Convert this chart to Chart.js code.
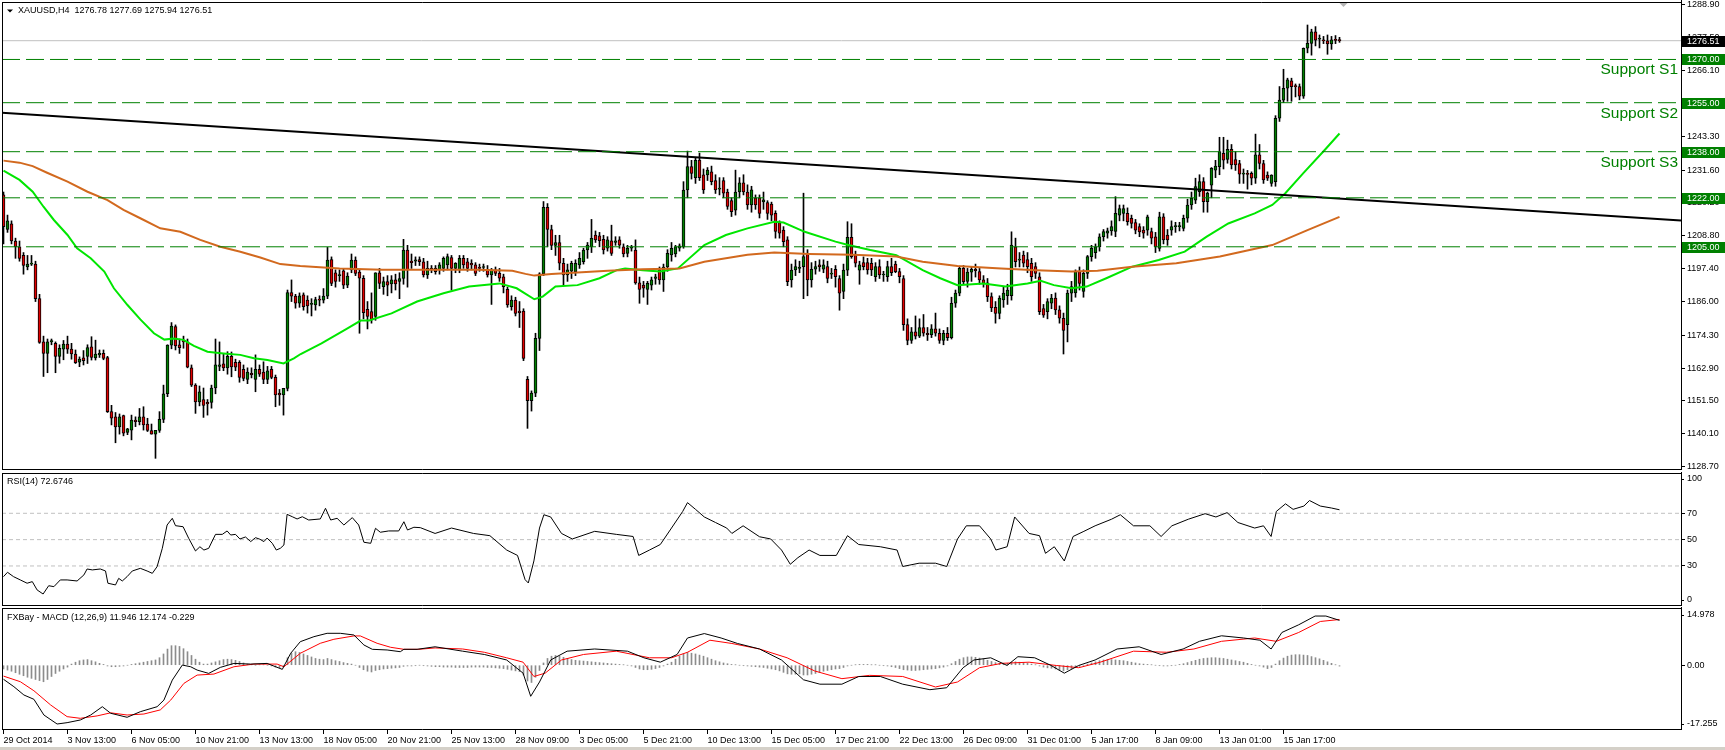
<!DOCTYPE html>
<html>
<head>
<meta charset="utf-8">
<title>XAUUSD H4</title>
<script src="https://cdn.jsdelivr.net/npm/chart.js@4.4.1/dist/chart.umd.min.js"></script>
<style>
  html, body { margin: 0; padding: 0; background: #fff; }
  #wrap { position: relative; width: 1725px; height: 750px; overflow: hidden; background: #fff; }
  #wrap canvas { position: absolute; left: 0; }
  #price { top: 0; }
  #rsi { top: 472px; }
  #macd { top: 607px; }
  #strip { position: absolute; left: 0; top: 747px; width: 1725px; height: 3px; background: #d4d0c8; }
</style>
</head>
<body>
<div id="wrap">
  <canvas id="price" width="1725" height="472"></canvas>
  <canvas id="rsi" width="1725" height="135"></canvas>
  <canvas id="macd" width="1725" height="143"></canvas>
  <div id="strip"></div>
</div>
<script>
// ---- data ----
const symbol = 'XAUUSD,H4';
const timeLabels = ['29 Oct 2014', '3 Nov 13:00', '6 Nov 05:00', '10 Nov 21:00', '13 Nov 13:00', '18 Nov 05:00',
  '20 Nov 21:00', '25 Nov 13:00', '28 Nov 09:00', '3 Dec 05:00', '5 Dec 21:00', '10 Dec 13:00', '15 Dec 05:00',
  '17 Dec 21:00', '22 Dec 13:00', '26 Dec 09:00', '31 Dec 01:00', '5 Jan 17:00', '8 Jan 09:00', '13 Jan 01:00',
  '15 Jan 17:00'];
const labelStep = 16; // bars between two time labels
const priceTicks = [1288.9, 1277.5, 1266.1, 1254.7, 1243.3, 1231.6, 1220.2, 1208.8, 1197.4, 1186.0, 1174.3,
  1162.9, 1151.5, 1140.1, 1128.7];
const supportLevels = [1270, 1255, 1238, 1222, 1205];
const supportNames = ['Support S1', 'Support S2', 'Support S3'];
const lastPrice = 1276.51;
const trendLine = [[-0.375, 1251.5], [419.375, 1214.1]];
const rsiLevels = [70, 50, 30];
const rsiLast = 72.6746;
const macdLast = [11.946, 12.174, -0.229];

// open, high, low, close per H4 bar
const ohlc = [
  [1223,1224,1206,1212],[1211,1216,1210,1214],[1213,1214,1206,1207],[1207,1208,1201,1205],[1205,1207,1200,1201],
  [1202,1203,1195.5,1198.5],[1198,1202,1197,1199],[1199,1202,1198.5,1199],[1199,1200,1186,1187],[1187,1188.5,1171.5,1171.8],
  [1172,1174,1160,1168],[1168,1173,1161.3,1172],[1172,1173,1171,1172.5],[1171.5,1172,1161.3,1167],[1167,1171,1164.6,1169.8],
  [1169.5,1172.5,1165.8,1171.2],[1171.2,1174,1168,1169.5],[1169.5,1171.5,1166,1167.8],[1167.8,1169.2,1164.5,1164.8],[1165,1166.8,1163.4,1166],
  [1166.5,1169,1164,1165.5],[1167,1171,1164.5,1170],[1170.3,1173.8,1165.7,1166.6],[1166.4,1172.6,1165.7,1167.8],[1167.5,1169.2,1166.6,1168],
  [1168,1169.2,1165.8,1166.3],[1166.6,1167,1147.5,1147.8],[1147.8,1150,1143.2,1145.5],[1146,1147.5,1137,1142.5],[1142.5,1147,1140,1146],
  [1146.4,1146.6,1139.4,1140.3],[1140.6,1142,1139.8,1141.8],[1141.4,1146.6,1138,1144.9],[1144.9,1146,1142.6,1144.3],[1144.3,1148.9,1143.2,1146],
  [1146,1149.5,1141.4,1143.2],[1143.5,1145.5,1140.9,1141.3],[1141.2,1143.5,1140,1140],[1140,1141.2,1131.6,1141.3],[1141.3,1147.8,1140.6,1145.1],
  [1145.1,1157,1144,1154],[1154,1171,1153,1170.9],[1170.9,1178.7,1169.6,1177.5],[1177.3,1177.9,1169.2,1170.6],[1171,1173,1168,1170],
  [1172.5,1174,1169.8,1172],[1172,1173,1163,1163.2],[1163,1164,1156.5,1157],[1157,1157.5,1147.2,1151.2],[1151.2,1156.7,1149.8,1154.7],
  [1152,1156,1145.8,1150],[1151,1152,1146.6,1150.5],[1151,1157,1149,1156],[1156,1173,1154,1164],[1163.5,1172,1162,1164],
  [1164.4,1168,1162,1163],[1163,1168.6,1160.8,1167],[1167,1168.5,1159.9,1163.3],[1164.9,1166,1162,1163.2],[1164.9,1165.5,1158,1159.7],
  [1162.5,1164,1158.5,1159.3],[1159,1163,1157.5,1161.5],[1161.1,1163,1159.5,1160.6],[1159,1167.5,1154.7,1162.5],[1162.5,1164,1160,1160.8],
  [1161.5,1165.1,1157.5,1159],[1159,1163.5,1157.5,1162],[1162.5,1163.5,1159.2,1159.7],[1159.7,1160.5,1149.5,1153.6],[1154.2,1155.5,1150,1153.6],
  [1153.6,1155.9,1146.6,1155.9],[1155.9,1190,1155,1189.1],[1189.1,1193.5,1186,1187.9],[1187.9,1188.5,1183.7,1185.4],[1185.4,1189,1184,1188],
  [1188.3,1189,1183,1184.2],[1186.5,1188,1182,1184.5],[1185,1187,1181,1185.4],[1184.8,1187.5,1183,1186.7],[1186.7,1188,1184.5,1186.5],
  [1186.5,1190.5,1185.5,1187.9],[1187.9,1204.8,1187,1200.4],[1200.6,1201.5,1191.5,1192.3],[1196,1197,1191,1193],[1195,1197,1193,1195.2],
  [1196.7,1197.5,1190.5,1191.7],[1191.7,1196,1190.8,1194.8],[1197,1202.5,1196,1200.4],[1200.4,1201.5,1195,1195.8],[1196.2,1197,1175,1194.1],
  [1194.1,1195,1180,1182.1],[1183.3,1186,1176.5,1180.8],[1182.5,1189,1178.5,1179.6],[1180.8,1196,1179.5,1196],[1196,1197.5,1190.5,1192.3],
  [1191.2,1194.5,1188.5,1192.9],[1192.9,1195,1188,1191.7],[1192.1,1195,1189,1193.5],[1193.5,1195.5,1190,1192.1],[1193,1196,1187,1194],
  [1194,1207.6,1192,1203.9],[1203.9,1205.5,1191,1197],[1200,1202.5,1197.5,1199.5],[1200,1201.5,1198.5,1200.5],[1200.6,1201.5,1198.5,1199.8],
  [1199.8,1201,1194.5,1195.2],[1195.2,1200,1194,1197.5],[1197.5,1198.5,1196,1197],[1197.5,1198.5,1195.5,1196.4],[1197,1199.5,1195.5,1198.7],
  [1197.5,1201.5,1196.5,1201],[1198.7,1202.5,1197,1201.6],[1201.3,1202,1190,1197.5],[1197.5,1199.5,1196,1199.3],[1197,1202,1196,1201],
  [1201,1202,1197.5,1198.7],[1199.8,1201,1196.5,1197.5],[1199.3,1200.5,1197,1198.7],[1198.7,1199.5,1195,1195.8],[1197.8,1199,1196.5,1197.5],
  [1197.8,1199,1196.5,1197.9],[1197.2,1198.5,1194.5,1195.2],[1195.2,1197.5,1185,1197],[1197,1198,1195,1195.8],[1195.8,1197.5,1193,1194.1],
  [1194.6,1195.5,1189,1191.2],[1190.2,1191,1184,1184.8],[1184.2,1188,1183,1186.5],[1186.5,1187.5,1181,1181.9],[1182.7,1186,1177,1182.1],
  [1182.7,1183.5,1165.5,1166.3],[1159,1160,1142,1151.6],[1151.6,1155,1148,1154.2],[1154.2,1175,1153,1173.2],[1173.2,1196,1169,1195.6],
  [1195.6,1220.7,1195,1218.7],[1218.7,1220,1205,1211],[1211,1212.5,1204,1205.5],[1205.5,1209,1202,1206.5],[1206.5,1209,1197,1199.3],
  [1199.3,1201,1191.5,1195.2],[1195.2,1199,1193,1197],[1196.5,1200,1194,1199.3],[1196.4,1200.5,1195,1199.3],[1198.7,1203,1197.5,1201],
  [1199.8,1204.5,1199,1203.9],[1203.9,1206.5,1201,1205.6],[1205,1214.5,1203,1207.9],[1209.1,1210.5,1206.5,1207.4],[1208.8,1210,1205,1207.1],
  [1207.6,1209,1202.5,1203.9],[1204.5,1208.5,1203.5,1207.4],[1207.1,1212.5,1202,1202.7],[1206.5,1208.5,1205.5,1207.1],[1207.4,1208.5,1204.5,1205.6],
  [1205,1206,1201.5,1202.5],[1202.7,1205.5,1201.5,1204.5],[1204.5,1205.5,1203.5,1204.5],[1203.9,1207.4,1192,1192.5],[1192.5,1194.5,1185.4,1190.2],
  [1191.7,1193,1187.5,1190.6],[1190.2,1193,1185,1192.3],[1191.7,1194.5,1190,1193.5],[1194,1195.5,1192,1194.6],[1197,1198,1192,1193.5],
  [1193.5,1199,1189.5,1198],[1198,1204,1196.5,1202.7],[1202.2,1206.5,1200,1204.5],[1202.5,1205.5,1201.5,1205],[1204.5,1206,1203.5,1205.3],
  [1205,1227.6,1204.5,1224.7],[1224.7,1238.2,1222,1232.8],[1232.8,1235,1228.5,1230.5],[1229,1236,1227,1235],[1235.1,1237.5,1228,1229],
  [1230,1232,1223.5,1224.7],[1229.9,1232.5,1228,1231.6],[1231,1233,1226.5,1227.6],[1228,1230,1223.5,1224.7],[1225,1229,1223,1225.3],
  [1228,1229,1222,1223.6],[1224,1225,1218,1219],[1221,1222,1215.5,1217.2],[1217.7,1231.6,1216,1224],[1224,1229,1222,1227.2],
  [1227.2,1230,1223,1224],[1224,1226.5,1218,1219.5],[1219.5,1226,1217,1224.8],[1222,1223,1218,1219.5],[1222,1223,1215,1216.6],
  [1220.6,1224,1218,1221.3],[1220.3,1221,1214.5,1216.6],[1219.8,1220.5,1214,1216],[1216.6,1217.5,1208,1210.3],[1213.4,1214,1208,1209.7],
  [1210.8,1212,1205,1206.8],[1207.4,1208.5,1191.5,1192.9],[1193.5,1199,1191,1196.9],[1197,1200.5,1195,1198.1],[1197.5,1200,1196,1197.6],
  [1198.1,1223.6,1187,1201.6],[1202.7,1204,1188,1193.5],[1193.5,1199.5,1191,1197.2],[1197.2,1200,1195.5,1198.1],[1198.7,1200.5,1196.5,1198.1],
  [1197.2,1200.5,1196,1198.7],[1198.1,1200,1192.5,1194],[1195.5,1197.5,1194,1195.8],[1197.2,1198.5,1191,1194.6],[1194,1195,1183,1188.9],
  [1189.5,1199,1187,1196.9],[1196.9,1213.7,1195,1208.3],[1208.3,1213,1201,1201.6],[1202.2,1203.5,1198,1199.3],[1196.9,1200,1192,1198.7],
  [1199.5,1201.5,1197,1198.1],[1199.5,1201,1195.5,1197],[1199.3,1201,1195,1197],[1194.6,1199.5,1193,1198.1],[1198.1,1200.5,1194,1195.2],
  [1195.2,1196.5,1193,1195.5],[1194.6,1200,1193,1198.1],[1198.1,1201,1195,1196],[1199,1200,1196,1196.4],[1196.4,1197.5,1192.5,1194.6],
  [1194,1195,1176,1178],[1178,1180,1171,1172.5],[1172.5,1177,1171.5,1175.5],[1175.5,1181,1173,1174],[1174,1180,1173.5,1177],
  [1177,1181.5,1174,1175],[1175,1177,1172.5,1174.5],[1174.5,1178,1173.5,1176.5],[1176.5,1182,1174,1175],[1175,1176.5,1171.5,1172.5],
  [1172.5,1176,1171,1175],[1175,1177,1172.5,1173.5],[1173.5,1187.5,1173,1185.4],[1185.4,1190,1184,1188.9],[1188.9,1198.3,1188,1197.5],
  [1197.5,1198.5,1192,1192.9],[1193,1197.5,1191,1196.2],[1196.2,1198,1193,1197.2],[1197.2,1199,1194.5,1196.7],[1196.4,1197.5,1192,1193.5],
  [1193.5,1195,1191,1192.3],[1192.5,1194,1186,1187.7],[1187.7,1189,1182.5,1183.8],[1184,1186,1178.5,1181.9],[1181.9,1188,1180,1187.2],
  [1186.6,1191,1184,1188.9],[1188,1192,1185,1190],[1188,1210.2,1186.5,1205.6],[1205,1208,1198,1199.8],[1200.4,1203,1198,1200.4],
  [1202.1,1203.5,1198,1199.3],[1200.6,1203,1196,1198.1],[1199.3,1201,1193,1194.6],[1198.1,1199.5,1194,1195.8],[1194.6,1196,1181.5,1182.5],
  [1183.6,1185,1180.5,1181.3],[1182.5,1187,1180,1186],[1185.4,1188.5,1183.5,1187.2],[1187.2,1189,1181.5,1183.1],[1183.1,1184.5,1178.5,1180.2],
  [1180.2,1182,1167.8,1176],[1178,1190,1172,1188.9],[1188.9,1193,1186,1191.2],[1189,1197,1187.5,1196.4],[1196.4,1198,1190,1192.3],
  [1189.5,1197,1187.5,1195.8],[1195.8,1202,1194,1201.6],[1201.6,1205.5,1200,1204.5],[1203,1206,1201,1205],[1205,1209.5,1203.5,1208.5],
  [1208.5,1211,1207,1210.3],[1209.7,1211.5,1208,1210.5],[1210.5,1214,1209,1212],[1210.3,1222.4,1208.5,1216.6],[1216,1219.5,1214,1218.3],
  [1216.6,1219.5,1214,1218.3],[1216.6,1218.5,1212.5,1213.7],[1214.9,1216,1211.5,1213.1],[1213.4,1214.5,1209.5,1210.8],[1212,1213,1208.5,1210.2],
  [1210.8,1212,1208,1209.7],[1210.8,1216,1209,1215.4],[1210.3,1211.5,1206,1208],[1208.5,1210,1203,1205],[1204.4,1217,1203.5,1215.4],
  [1215.4,1216.5,1206,1207.4],[1209.1,1211,1205.5,1207.4],[1210.8,1214,1209,1212],[1212,1213.5,1210,1212.2],[1212,1213.5,1210.5,1212.3],
  [1211.4,1216,1210.5,1214.9],[1214.9,1221.5,1213.5,1219.5],[1219.5,1224,1218,1221.8],[1221.2,1228.8,1220,1225.9],[1224.1,1230,1222.5,1227.6],
  [1227.6,1229,1217,1220.7],[1220.7,1224,1217,1223.6],[1226.4,1232.5,1222,1232.2],[1231.6,1235,1229,1233],[1232.8,1243,1230,1238],
  [1237.4,1243,1232,1235.1],[1235.3,1242,1234,1238.8],[1238.8,1240.5,1232,1233.4],[1235.3,1238,1231.5,1233.4],[1233.9,1235,1227,1230.2],
  [1230.2,1232,1227,1230.5],[1230.5,1231.5,1225,1230.1],[1230.5,1231,1226.5,1228.8],[1228.8,1244.1,1227,1236.9],[1236.9,1240.5,1232,1233.9],
  [1233.9,1235,1227,1228.2],[1229.9,1231,1228,1228.8],[1227,1230,1226,1229.9],[1227.6,1250.5,1226,1249.6],[1249.6,1260.6,1248.5,1255.9],
  [1255.9,1266.6,1255,1260],[1260,1263.5,1255.5,1262.9],[1262.6,1263.5,1255.5,1260.6],[1260.8,1261.5,1257,1260.6],[1260.6,1261.5,1256,1257.3],
  [1257.3,1274,1256.5,1273.9],[1273.9,1281.96,1272.3,1275.6],[1275.6,1280.5,1271.5,1279.6],[1279.6,1281.4,1274.7,1276.7],[1277,1278.5,1274,1277],
  [1276.8,1278,1275.5,1276.5],[1276.5,1278.5,1271.8,1275.4],[1275.4,1278,1273.5,1276.8],[1276.7,1278.3,1275.5,1276.6],[1276.78,1277.69,1275.94,1276.51]
];

// moving averages, [bar, price]
const maFast = [[0,1231.4],[4,1228.2],[7.3,1224.1],[10,1218.9],[12.6,1214.3],[16,1209.1],[18.4,1204.5],[21.8,1201.0],
  [25.2,1196.4],[27.6,1190.6],[31,1184.8],[34.2,1179.8],[37.6,1175.0],[40.2,1172.8],[42.6,1173.2],[45,1172.7],[47.6,1170.6],
  [51,1168.6],[55,1168.0],[59.2,1167.5],[62.6,1166.3],[66,1165.7],[70,1164.5],[72.6,1166.3],[74.3,1167.8],[79.5,1171.5],
  [86,1176.7],[89.3,1179.4],[91.4,1179.4],[97,1181.9],[103.4,1186.0],[110,1188.9],[116.4,1191.2],[124,1192.3],[128.3,1190.6],
  [132.7,1186.8],[134.8,1187.7],[138,1191.2],[143.5,1191.7],[149,1194.1],[153.3,1196.9],[155.4,1197.5],[159.8,1196.9],
  [164.2,1196.4],[168.6,1197.5],[175.2,1205.6],[180.6,1209.1],[186,1211.4],[192.7,1213.7],[195,1213.4],[200.3,1210.2],
  [208,1206.8],[211.2,1205.6],[216.7,1203.9],[223.2,1202.1],[229.8,1196.9],[234.2,1194.1],[238.5,1191.7],[245,1192.3],
  [250.5,1191.2],[256,1192.3],[259.3,1193.2],[262.6,1191.7],[267,1190.6],[270.8,1191.2],[275.7,1194.1],[282.2,1198.1],
  [288.8,1200.4],[295.3,1203.3],[300.8,1208.5],[306.2,1213.1],[312.8,1216.6],[317.2,1219.5],[320.4,1223.5],[324.9,1230.5],
  [330.3,1238.6],[334,1244.3]];
const maSlow = [[0,1234.9],[4,1234.2],[7.3,1233.0],[10.9,1230.7],[16,1227.6],[21,1224.1],[26,1221.2],[30,1217.8],
  [34.2,1214.9],[39.2,1211.4],[44.2,1210.2],[49.2,1207.4],[54.2,1205.0],[59.2,1203.3],[64.2,1201.3],[69.2,1199.0],
  [74.2,1198.3],[84,1197.5],[94.7,1197.0],[107.7,1197.0],[118.6,1197.0],[127.2,1196.7],[130.5,1195.6],[132.7,1195.0],
  [137,1195.6],[142.4,1196.0],[151.1,1196.7],[159.8,1197.2],[169,1197.5],[175.2,1199.8],[186,1202.2],[192.7,1203.0],
  [201.4,1202.5],[212.3,1202.2],[223.2,1201.6],[229.8,1199.8],[238.5,1198.3],[249.4,1197.5],[258.2,1196.9],[267,1196.4],
  [273.5,1196.7],[282.2,1198.1],[293.2,1199.3],[304.1,1201.6],[317.2,1205.6],[326,1210.8],[334,1215.4]];

// RSI(14), [bar, value]
const rsi = [[0,21.9],[1,25.2],[2.5,21.9],[4.2,19.4],[5.9,16.9],[7.2,18.1],[8.4,11.8],[9.9,8.7],[11.3,15.0],[12.6,14.3],
  [14.2,19.4],[15.9,19.4],[18.4,18.6],[20.1,23.2],[20.9,27.7],[22.2,27.0],[24.2,27.7],[25.5,26.2],[26.1,16.9],[28,15.6],
  [28.8,20.6],[29.7,18.6],[30.9,21.9],[32.2,26.2],[34.2,28.2],[35.9,26.2],[37.2,24.4],[38.4,29.5],[39.7,43.4],[40.9,61.1],
  [42.2,66.2],[43,60.6],[44.9,59.8],[46.3,51.0],[48,41.4],[49.1,44.6],[50.1,42.1],[51.3,43.4],[53,54.0],[54.7,54.0],
  [55.9,56.6],[56.8,53.5],[58,54.0],[59.1,50.5],[60.5,52.0],[61.8,48.5],[63,51.5],[64.1,50.3],[65.1,48.5],[65.9,51.2],
  [67.2,47.2],[68.2,42.1],[69.2,43.4],[70.1,45.9],[70.9,69.2],[72.2,67.4],[73.4,65.7],[74.7,67.4],[76.3,64.9],[79.2,65.7],
  [80.5,73.8],[81.8,64.9],[83.4,66.2],[85.1,61.1],[87.2,66.7],[88.8,61.1],[90.1,48.0],[91.8,47.2],[93,58.6],[94.2,55.6],
  [96.3,56.6],[98.8,56.6],[100.1,63.6],[101,57.3],[102.6,59.4],[104.2,59.1],[107.9,54.7],[112,58.8],[117.5,54.7],[121.6,53.0],
  [125.8,42.1],[128.5,38.0],[130.4,19.6],[131.2,17.1],[132.6,33.8],[134,58.8],[135.1,68.9],[136.8,67.2],[139.5,54.7],
  [142.2,50.5],[147.8,56.3],[153.2,54.0],[157.4,52.4],[158.8,38.0],[161.5,42.1],[164.2,46.3],[167,58.8],[169.8,71.4],
  [171,78.1],[173,73.0],[175.2,67.2],[178,63.0],[180.8,58.8],[182.1,54.7],[184.9,60.5],[189,52.2],[191.8,50.5],[194.5,42.1],
  [196.7,31.3],[198.6,36.3],[201.4,42.1],[204.1,38.0],[208.2,38.0],[211,53.0],[213.8,46.3],[219.2,44.6],[223.4,42.1],
  [224.8,29.6],[228.9,32.1],[233,32.1],[235.8,29.6],[238.5,50.5],[240.7,60.5],[244,60.5],[246.8,50.5],[248.1,42.1],
  [250.9,44.6],[252.8,67.2],[256.4,54.7],[259,53.0],[260.5,39.6],[262.7,44.6],[265.2,33.8],[267.4,52.4],[270.1,56.3],
  [272.9,60.5],[277,65.5],[279.2,68.9],[282.5,60.5],[286.6,60.5],[289.4,52.4],[292.1,60.5],[296.2,65.5],[300.4,69.7],
  [303.1,67.2],[305.9,70.5],[308.6,63.0],[312.8,58.8],[315,60.5],[316.9,52.4],[318.2,71.4],[320.5,77.2],[322.4,73.0],
  [325.1,75.5],[326.5,79.7],[329.2,75.5],[332,74.0],[334,72.67]];

// MACD(12,26,9): main and signal as [bar, value], histogram one value per bar
const macdMain = [[0,-3.75],[2.6,-5.72],[5.1,-7.93],[7.6,-9.08],[10.1,-13.26],[13.4,-15.66],[15.9,-15.3],[19.2,-14.59],
  [21.8,-13.26],[24.7,-11.05],[26.8,-12.8],[30.9,-13.87],[34.2,-12.38],[38.4,-11.05],[40.1,-9.29],[42.2,-3.96],[44.7,0.04],
  [46.8,-0.41],[48.4,-1.29],[51.3,-2.18],[54.2,-0.58],[57.6,0.48],[61.8,0.3],[65.9,0.48],[69.7,-1.1],[71.8,3.18],[74.2,6.27],
  [77.6,7.6],[80.9,8.5],[84.2,8.5],[87.6,8.05],[90.1,5.39],[92.2,4.24],[95.9,4.06],[99.2,3.6],[100.1,4.24],[103.4,4.24],
  [107.9,4.91],[114.8,3.74],[120.2,2.86],[125.8,1.39],[129.9,-2.12],[131.8,-8.28],[134,-4.47],[136.8,1.39],[140.9,3.74],
  [147.8,4.32],[156,3.74],[160.1,1.98],[164.2,0.81],[168.4,2.86],[171,7.25],[175.2,8.43],[179.4,7.25],[183.5,5.79],
  [189,4.32],[194.5,1.39],[200,-3.88],[204.1,-5.05],[209.6,-5.05],[213.8,-3.0],[219.2,-3.0],[224.8,-5.05],[231.6,-6.52],
  [235.8,-6.0],[239.9,-0.67],[242.6,1.39],[246.8,1.98],[250.9,-0.07],[253.6,2.27],[257.8,1.98],[261.9,-0.07],[265.2,-2.12],
  [268.8,-0.07],[272.9,1.39],[278.4,4.32],[283.9,4.91],[289.4,2.86],[294.9,4.32],[299,6.37],[304.5,7.84],[310,7.25],
  [314.1,6.66],[316.9,4.32],[319.6,8.72],[323.8,10.77],[327.9,13.1],[330.6,13.1],[334,11.946]];
const macdSignal = [[0,-2.9],[4.2,-4.39],[7.6,-6.8],[11.8,-10.6],[15.9,-13.7],[19.2,-14.14],[23.4,-13.5],[26.8,-12.68],
  [30.9,-13.26],[35.1,-13.0],[39.2,-11.9],[41.8,-9.29],[45.1,-4.84],[48.4,-2.63],[52.6,-2.36],[57.6,-0.41],[62.6,0.3],
  [68.4,0.3],[70.1,-0.41],[74.2,3.18],[79.2,5.84],[82.6,6.91],[87.6,7.8],[89.2,7.8],[93.4,5.84],[96.8,4.77],[100.1,4.24],
  [103.8,4.24],[107.9,4.6],[114.8,4.32],[120.2,3.45],[125.8,1.98],[129.9,0.81],[132.6,-3.0],[135.4,-2.12],[139.5,1.39],
  [145,2.86],[153.2,3.74],[161.5,1.98],[167,1.98],[171,3.45],[176.6,6.66],[182.1,5.79],[189,4.32],[195.9,1.98],
  [202.8,-1.53],[209.6,-3.58],[216.5,-2.7],[224.8,-3.0],[233,-5.8],[238.5,-4.47],[244,-0.67],[249.5,0.5],[256.4,0.81],
  [263.2,-0.07],[268.8,-0.67],[274.2,0.81],[282.5,3.74],[290.8,3.45],[297.6,4.32],[304.5,6.37],[312.8,7.25],[318.2,6.37],
  [323.8,8.72],[329.2,11.65],[334,12.174]];
const macdHist = [
  -1.0,-1.3,-1.6,-2.0,-2.4,-2.8,-3.2,-3.5,-3.8,-4.1,-4.4,-3.8,-3.0,-2.2,-1.6,-1.0,-0.5,0.3,0.8,1.2,
  1.4,1.5,1.2,0.9,0.5,0.2,-0.2,-0.4,-0.4,-0.3,-0.2,0,0.2,0.4,0.6,0.8,1.0,1.2,1.4,2.0,
  3.0,4.3,5.2,5.2,5.0,4.4,3.6,2.6,1.6,0.8,0.3,0.3,0.6,0.9,1.2,1.5,1.6,1.5,1.3,1.0,
  0.6,0.3,0.1,0,0.1,0.1,0,-0.2,-0.5,-0.7,-0.4,2.0,3.2,3.6,3.4,3.0,2.6,2.2,1.8,1.6,
  1.5,1.8,1.5,1.2,1.0,0.7,0.5,0.3,0,-0.6,-1.2,-1.6,-1.8,-1.4,-1.2,-1.0,-0.9,-0.8,-0.7,-0.6,
  -0.3,-0.2,-0.2,-0.1,0,-0.1,-0.2,-0.3,-0.4,-0.4,-0.5,-0.5,-0.5,-0.6,-0.6,-0.6,-0.6,-0.5,-0.5,-0.5,
  -0.5,-0.6,-0.6,-0.7,-0.8,-0.9,-1.1,-1.3,-1.5,-1.7,-2.6,-4.2,-4.6,-3.2,-1.4,0.6,1.8,2.4,2.6,2.4,
  2.1,1.8,1.5,1.3,1.2,1.1,1.0,0.9,0.8,0.7,0.6,0.5,0.4,0.3,0.2,0.1,0,-0.2,-0.6,-1.0,
  -1.2,-1.2,-1.1,-0.9,-0.6,-0.2,0.3,0.8,1.6,2.4,3.0,3.4,3.2,3.0,2.7,2.4,2.0,1.6,1.2,0.9,
  0.6,0.4,0.2,0.1,0,-0.1,-0.2,-0.3,-0.4,-0.5,-0.6,-0.8,-1.0,-1.2,-1.5,-1.9,-2.3,-2.4,-2.4,-2.3,
  -2.6,-2.6,-2.4,-2.2,-1.9,-1.6,-1.4,-1.2,-1.0,-0.9,-0.6,-0.2,0,0.1,0.2,0.2,0.2,0.1,0.1,0,
  -0.1,-0.2,-0.4,-0.6,-0.9,-1.2,-1.3,-1.4,-1.4,-1.3,-1.2,-1.1,-1.0,-0.9,-0.7,-0.5,-0.2,0.4,1.0,1.6,
  2.0,2.2,2.2,2.1,1.9,1.6,1.3,1.0,0.7,0.5,0.4,0.5,0.8,0.9,0.8,0.7,0.5,0.3,0.1,-0.2,
  -0.5,-0.7,-0.8,-1.0,-1.3,-1.5,-1.2,-0.9,-0.6,-0.3,0,0.3,0.6,0.9,1.2,1.4,1.5,1.5,1.4,1.3,
  1.2,1.0,0.8,0.6,0.4,0.3,0.2,0.1,0,-0.1,-0.2,-0.2,-0.1,0,0.2,0.4,0.7,1.0,1.3,1.6,
  1.8,1.9,2.0,2.0,1.9,1.8,1.6,1.4,1.2,1.0,0.8,0.5,0.2,0,-0.2,-0.5,-0.9,-0.6,0.3,1.2,
  1.9,2.4,2.7,2.8,2.8,2.7,2.6,2.3,2.0,1.7,1.3,0.9,0.5,0.1,-0.229
];

// ---- drawing ----
const FONT = '"Liberation Sans", Arial, sans-serif';
const GREEN = '#008000';
const X_MIN = -0.375, X_MAX = 419.375;

Chart.defaults.font.family = FONT;
Chart.defaults.font.size = 9;
Chart.defaults.color = '#000';

const pts = arr => arr.map(p => ({x: p[0], y: p[1]}));
const hLine = (v, color, dash, width, order) => ({
  type: 'line', data: [{x: X_MIN, y: v}, {x: X_MAX, y: v}], borderColor: color, borderWidth: width,
  borderDash: dash, pointRadius: 0, order: order
});
const noPad = s => { s.paddingTop = 0; s.paddingBottom = 0; s.paddingLeft = 0; s.paddingRight = 0; };

const hiddenX = {type: 'linear', min: X_MIN, max: X_MAX, offset: false, display: false, grid: {offset: false}};

function rightAxis(min, max, ticks, fmt) {
  return {
    position: 'right', min: min, max: max,
    afterBuildTicks: s => { s.ticks = ticks.map(v => ({value: v})); },
    afterFit: s => { s.width = 44; noPad(s); },
    grid: {drawOnChartArea: false, drawTicks: true, tickLength: 4, color: '#000', tickColor: '#000'},
    border: {display: false},
    ticks: {autoSkip: false, padding: 2, color: '#000', font: {family: FONT, size: 9}, callback: fmt}
  };
}

function frame(chart) {
  const ctx = chart.ctx, a = chart.chartArea;
  ctx.save();
  ctx.strokeStyle = '#000';
  ctx.lineWidth = 1;
  ctx.beginPath();
  ctx.moveTo(a.left + 0.5, a.top + 0.5); ctx.lineTo(a.right + 0.5, a.top + 0.5);
  ctx.moveTo(a.left + 0.5, a.bottom - 0.5); ctx.lineTo(a.right + 0.5, a.bottom - 0.5);
  ctx.moveTo(a.left + 0.5, a.top); ctx.lineTo(a.left + 0.5, a.bottom);
  ctx.moveTo(a.right + 0.5, 0); ctx.lineTo(a.right + 0.5, a.bottom);
  ctx.stroke();
  ctx.restore();
}

function edgeLabel(chart, txt, y) {
  const ctx = chart.ctx, a = chart.chartArea;
  ctx.save();
  ctx.fillStyle = '#000';
  ctx.fillRect(a.right + 1, Math.round(y), 2, 1);
  ctx.font = '9px ' + FONT;
  ctx.textAlign = 'left';
  ctx.textBaseline = 'middle';
  ctx.fillText(txt, a.right + 6, y);
  ctx.restore();
}

const pricePanel = {
  id: 'pricePanel',
  afterDraw(chart) {
    const ctx = chart.ctx, a = chart.chartArea, ys = chart.scales.y;
    frame(chart);
    ctx.save();
    ctx.fillStyle = '#000';
    ctx.beginPath(); ctx.moveTo(7, 9.5); ctx.lineTo(13, 9.5); ctx.lineTo(10, 12.5); ctx.closePath(); ctx.fill();
    ctx.font = '9px ' + FONT;
    ctx.textBaseline = 'middle';
    ctx.textAlign = 'left';
    const last = ohlc[ohlc.length - 1];
    ctx.fillText(symbol + '  ' + last.map(v => v.toFixed(2)).join(' '), 18, 11);

    ctx.fillStyle = '#b4b4b4';
    ctx.beginPath(); ctx.moveTo(1339.5, 3); ctx.lineTo(1347.5, 3); ctx.lineTo(1343.5, 7); ctx.closePath(); ctx.fill();

    ctx.font = '15.5px ' + FONT;
    ctx.textAlign = 'right';
    ctx.textBaseline = 'alphabetic';
    ctx.fillStyle = GREEN;
    supportNames.forEach((n, i) => {
      ctx.fillText(n, a.right - 3, Math.round(ys.getPixelForValue(supportLevels[i])) + 15);
    });

    ctx.font = '9px ' + FONT;
    ctx.textAlign = 'left';
    ctx.textBaseline = 'middle';
    const box = (v, bg) => {
      const py = Math.round(ys.getPixelForValue(v));
      ctx.fillStyle = bg;
      ctx.fillRect(a.right + 1, py - 5, 44, 11);
      ctx.fillStyle = '#fff';
      ctx.fillText(v.toFixed(2), a.right + 6, py + 0.5);
    };
    supportLevels.forEach(v => box(v, GREEN));
    box(lastPrice, '#000');
    ctx.restore();
  }
};

const rsiPanel = {
  id: 'rsiPanel',
  afterDraw(chart) {
    const ctx = chart.ctx, a = chart.chartArea;
    frame(chart);
    ctx.save();
    ctx.font = '9px ' + FONT;
    ctx.fillStyle = '#000';
    ctx.textBaseline = 'middle';
    ctx.fillText('RSI(14) ' + rsiLast, 7, 10);
    ctx.restore();
    edgeLabel(chart, '100', a.top + 6);
    edgeLabel(chart, '0', a.bottom - 6);
  }
};

const macdPanel = {
  id: 'macdPanel',
  afterDraw(chart) {
    const ctx = chart.ctx, a = chart.chartArea;
    frame(chart);
    ctx.save();
    ctx.font = '9px ' + FONT;
    ctx.fillStyle = '#000';
    ctx.textBaseline = 'middle';
    ctx.fillText('FXBay - MACD (12,26,9) ' + macdLast.join(' '), 7, 10.5);
    ctx.restore();
    edgeLabel(chart, '14.978', a.top + 7);
    edgeLabel(chart, '-17.255', a.bottom - 6);
  }
};

const common = {
  responsive: false,
  animation: false,
  devicePixelRatio: 1,
  events: [],
  plugins: {legend: {display: false}, tooltip: {enabled: false}}
};

// price panel: candles from floating bars
new Chart(document.getElementById('price'), {
  type: 'bar',
  data: {
    datasets: [
      hLine(lastPrice, '#c0c0c0', [], 1, 9),
      {
        data: ohlc.map((d, i) => ({x: i, y: [d[2], d[1]]})),
        backgroundColor: '#000', barThickness: 1, grouped: false, minBarLength: 1, order: 8
      },
      {
        data: ohlc.map((d, i) => ({x: i, y: [d[0], d[3]]})),
        backgroundColor: ohlc.map(d => d[3] >= d[0] ? GREEN : '#e00000'),
        borderColor: '#000', borderWidth: 1, borderSkipped: false,
        barThickness: 3, grouped: false, minBarLength: 1, order: 7
      },
      {type: 'line', data: pts(maSlow), borderColor: '#d2691e', borderWidth: 2, pointRadius: 0, order: 3},
      {type: 'line', data: pts(maFast), borderColor: '#00e600', borderWidth: 2, pointRadius: 0, order: 3},
      {type: 'line', data: pts(trendLine), borderColor: '#000', borderWidth: 2, pointRadius: 0, order: 2},
      ...supportLevels.map(v => hLine(v, GREEN, [18, 6], 1, 1))
    ]
  },
  options: Object.assign({}, common, {
    layout: {padding: {left: 2, top: 2, bottom: 2, right: 0}},
    scales: {
      x: hiddenX,
      y: rightAxis(1127.55, 1289.94, priceTicks, v => v.toFixed(2))
    }
  }),
  plugins: [pricePanel]
});

// RSI panel
new Chart(document.getElementById('rsi'), {
  type: 'line',
  data: {
    datasets: [
      ...rsiLevels.map(v => hLine(v, '#c0c0c0', [4, 3], 1, 2)),
      {data: pts(rsi), borderColor: '#000', borderWidth: 1, pointRadius: 0, order: 1}
    ]
  },
  options: Object.assign({}, common, {
    layout: {padding: {left: 2, top: 1, bottom: 1, right: 0}},
    scales: {
      x: hiddenX,
      y: rightAxis(-0.4, 100.6, rsiLevels, v => String(v))
    }
  }),
  plugins: [rsiPanel]
});

// MACD panel with time axis
new Chart(document.getElementById('macd'), {
  type: 'bar',
  data: {
    datasets: [
      {
        data: macdHist.map((v, i) => ({x: i, y: v})),
        backgroundColor: '#8c8c8c', barThickness: 1, grouped: false, order: 3
      },
      {type: 'line', data: pts(macdSignal), borderColor: '#ff0000', borderWidth: 1, pointRadius: 0, order: 2},
      {type: 'line', data: pts(macdMain), borderColor: '#000', borderWidth: 1, pointRadius: 0, order: 1}
    ]
  },
  options: Object.assign({}, common, {
    layout: {padding: {left: 2, top: 1, bottom: 0, right: 0}},
    scales: {
      x: {
        type: 'linear', min: X_MIN, max: X_MAX, offset: false, position: 'bottom',
        afterBuildTicks: s => { s.ticks = timeLabels.map((_, i) => ({value: i * labelStep})); },
        afterFit: s => { s.height = 20; noPad(s); },
        grid: {offset: false, drawOnChartArea: false, drawTicks: true, tickLength: 4, color: '#000', tickColor: '#000'},
        border: {display: false},
        ticks: {autoSkip: false, maxRotation: 0, align: 'start', padding: 1, color: '#000',
          font: {family: FONT, size: 9}, callback: (v, i) => timeLabels[i]}
      },
      y: rightAxis(-17.255, 15.24, [0], v => v.toFixed(2))
    }
  }),
  plugins: [macdPanel]
});
</script>
</body>
</html>
